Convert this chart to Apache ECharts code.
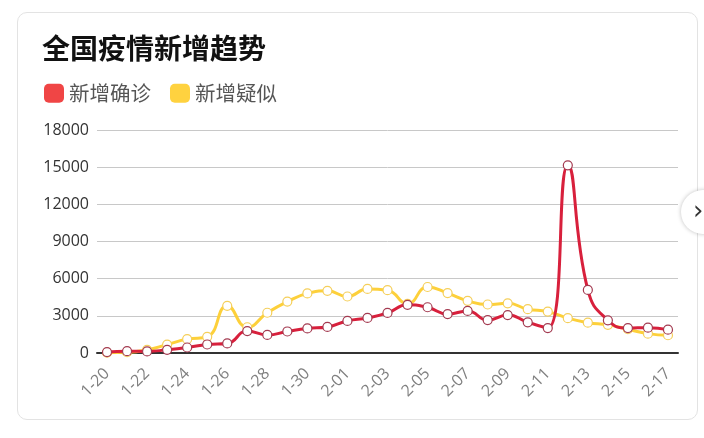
<!DOCTYPE html>
<html>
<head>
<meta charset="utf-8">
<script src="https://cdn.jsdelivr.net/npm/echarts@6/dist/echarts.min.js"></script>
<style>
  html, body { margin: 0; padding: 0; background: #fff; overflow: hidden; }
  .card {
    position: absolute; left: 17px; top: 12px; width: 681px; height: 408px;
    border: 1px solid #e3e3e3; border-radius: 10px; box-sizing: border-box;
  }
  #chart { position: absolute; left: 0; top: 0; width: 704px; height: 438px; }
  .btn {
    position: absolute; left: 681px; top: 190px; width: 44px; height: 44px;
    border-radius: 50%; background: #fff; box-shadow: 0 0 4px rgba(0,0,0,0.25);
    font-family: "DejaVu Sans", sans-serif; font-size: 26px; color: #333;
    line-height: 40px; text-indent: 12px;
  }
</style>
</head>
<body>
<div class="card"></div>
<div id="chart"></div>
<div class="btn">&#x203A;</div>
<script>
const dates = ['1-20','1-21','1-22','1-23','1-24','1-25','1-26','1-27','1-28','1-29',
  '1-30','1-31','2-01','2-02','2-03','2-04','2-05','2-06','2-07','2-08',
  '2-09','2-10','2-11','2-12','2-13','2-14','2-15','2-16','2-17']
const confirmed = [77, 149, 131, 259, 444, 688, 769, 1771, 1459, 1737,
  1982, 2102, 2590, 2829, 3235, 3887, 3694, 3143, 3399, 2656,
  3062, 2478, 2015, 15152, 5090, 2641, 2009, 2048, 1886]
const suspected = [27, 60, 257, 680, 1118, 1309, 3806, 2077, 3248, 4148,
  4812, 5019, 4562, 5173, 5072, 3971, 5328, 4833, 4214, 3916,
  4008, 3536, 3342, 2807, 2450, 2277, 1918, 1563, 1432]
const yTicks = { min: 0, max: 18000, interval: 3000 }

const cjk = '"Noto Sans CJK SC", sans-serif'
const chart = echarts.init(document.getElementById('chart'))
chart.setOption({
  animation: false,
  title: {
    text: '全国疫情新增趋势',
    left: 42, top: 34, padding: 0,
    textStyle: { fontFamily: cjk, fontSize: 28, fontWeight: 'bold', color: '#111' }
  },
  legend: {
    left: 44, top: 83, padding: 0,
    icon: 'roundRect', itemWidth: 20, itemHeight: 19, itemGap: 19,
    textStyle: { fontFamily: cjk, fontSize: 20.5, color: '#555' },
    data: [
      { name: '新增确诊', itemStyle: { color: '#f04545', borderWidth: 0 } },
      { name: '新增疑似', itemStyle: { color: '#ffd23f', borderWidth: 0 } }
    ]
  },
  grid: { left: 97, right: 26, top: 130, bottom: 85 },
  xAxis: {
    type: 'category',
    data: dates,
    boundaryGap: true,
    axisLine: { lineStyle: { color: '#333', width: 2 } },
    axisTick: { show: false },
    axisLabel: {
      interval: 1, rotate: 45, margin: 18,
      fontFamily: '"Open Sans", sans-serif', fontSize: 16, color: '#808080'
    }
  },
  yAxis: {
    type: 'value',
    min: yTicks.min, max: yTicks.max, interval: yTicks.interval,
    axisLine: { show: false },
    axisTick: { show: false },
    axisLabel: {
      margin: 8, fontFamily: '"Open Sans", sans-serif', fontSize: 16, color: '#333',
      formatter: v => String(v)
    },
    splitLine: { lineStyle: { color: '#c8c8c8', width: 1 } }
  },
  series: [
    {
      name: '新增疑似', type: 'line', smooth: true, data: suspected,
      symbol: 'circle', symbolSize: 9, z: 2,
      lineStyle: { color: '#fdd03a', width: 3 },
      itemStyle: { color: '#fff', borderColor: '#f5cf5a', borderWidth: 1.2 }
    },
    {
      name: '新增确诊', type: 'line', smooth: true, data: confirmed,
      symbol: 'circle', symbolSize: 9, z: 3,
      lineStyle: { color: '#d8203c', width: 3 },
      itemStyle: { color: '#fff', borderColor: '#a33a50', borderWidth: 1.2 }
    }
  ]
})
</script>
</body>
</html>
